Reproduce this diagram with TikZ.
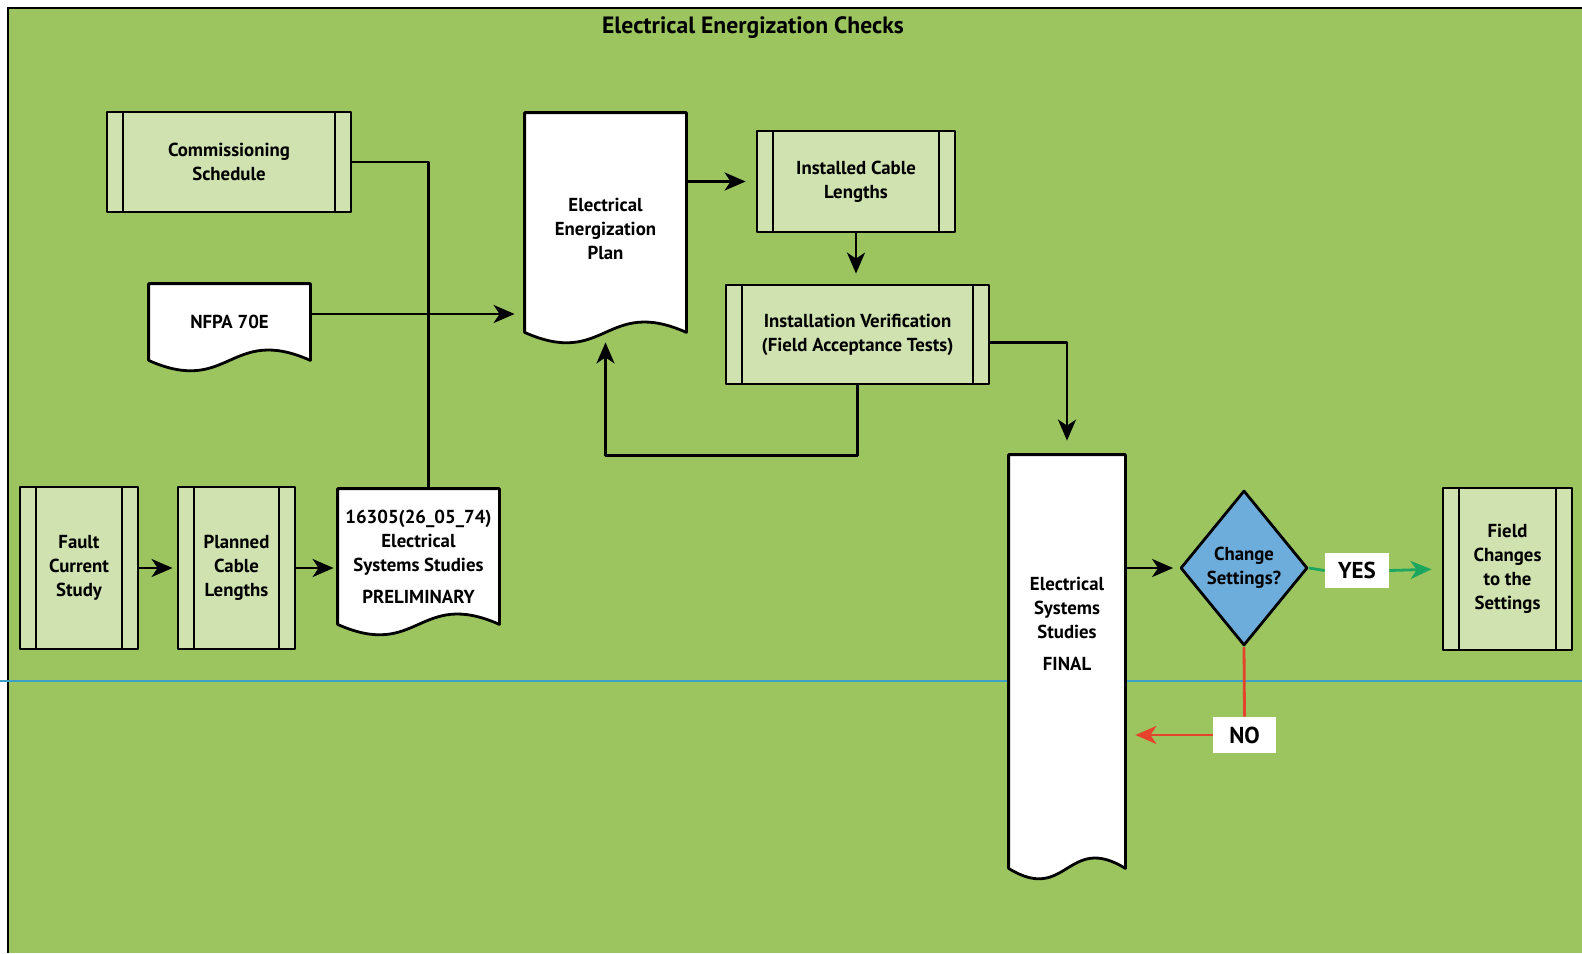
\documentclass[tikz,border=0pt]{standalone}
\usepackage{fontspec}
\setmainfont{PT Sans}
\usetikzlibrary{shapes.geometric,arrows.meta,calc}

\definecolor{bggreen}{HTML}{9CC55F}
\definecolor{boxgreen}{HTML}{CFE2AF}
\definecolor{decblue}{HTML}{6DADDB}
\definecolor{rowline}{HTML}{3DA0C6}
\definecolor{yesgreen}{HTML}{1DA660}
\definecolor{nored}{HTML}{E5432B}

\pgfdeclarelayer{bg}
\pgfdeclarelayer{docs}
\pgfsetlayers{bg,docs,main}

% document outline with a wavy bottom
% #1 = extra length below the node, #2 = extra length above it, #3 = node
\newcommand{\docshape}[3][0pt]{%
  \begin{pgfonlayer}{docs}
  \draw[line width=1.4pt, fill=white, line join=round]
    ([yshift=-#1]#3.south east) -- ([yshift=#2]#3.north east) -- ([yshift=#2]#3.north west) -- ([yshift=-#1]#3.south west)
    .. controls ($(#3.south)+(0pt,-18pt-#1)$) and ($(#3.south)+(0pt,18pt-#1)$) .. ([yshift=-#1]#3.south east) -- cycle;
  \end{pgfonlayer}}

\begin{document}
\begin{tikzpicture}[x=0.5pt,y=-0.5pt,line join=round,
  txt/.style={font=\fontsize{9.4}{12}\selectfont\bfseries, align=center, inner sep=0pt},
  process/.style={txt, draw, line width=1.4pt, fill=boxgreen,
    path picture={\draw[line width=1.4pt]
      ([xshift=8pt]path picture bounding box.north west) -- ([xshift=8pt]path picture bounding box.south west)
      ([xshift=-8pt]path picture bounding box.north east) -- ([xshift=-8pt]path picture bounding box.south east);}},
  docnode/.style={txt, rectangle, minimum width=80.5pt},
  decision/.style={txt, diamond, draw, line width=1.4pt, fill=decblue, minimum width=63.5pt, minimum height=77.5pt},
  answer/.style={font=\fontsize{11.5}{12}\selectfont\bfseries, fill=white, inner sep=0pt},
  link/.style={line width=1.4pt},
  flow/.style={line width=1.4pt, -{Stealth[length=10.5pt,width=9pt,inset=3pt]}}]

\useasboundingbox (0,0) rectangle (1582,953);

% frame
\begin{pgfonlayer}{bg}
\fill[bggreen] (8,8) rectangle (1582,953);
\draw[line width=1.2pt] (8,953) -- (8,8) -- (1582,8);
\draw[rowline, line width=1.4pt] (0,681) -- (1582,681);
\end{pgfonlayer}

\node[font=\fontsize{11.8}{14}\selectfont\bfseries] (head) at (753,28) {Electrical Energization Checks};

% processes
\node[process, minimum width=122pt, minimum height=50pt] (comm) at (229,162) {Commissioning\\Schedule};
\node[process, minimum width=99pt, minimum height=50.5pt] (inst) at (856,181.5) {Installed Cable\\Lengths};
\node[process, minimum width=131.5pt, minimum height=49.5pt] (verif) at (857.5,334.5) {Installation Verification\\(Field Acceptance Tests)};
\node[process, minimum width=59pt, minimum height=81pt] (fault) at (79,568) {Fault\\Current\\Study};
\node[process, minimum width=58.5pt, minimum height=81pt] (planned) at (236.5,568) {Planned\\Cable\\Lengths};
\node[process, minimum width=64.5pt, minimum height=81pt] (field) at (1507.5,569) {Field\\Changes\\to the\\Settings};

% documents
\node[docnode, minimum height=38pt] (nfpa) at (229.5,322) {NFPA 70E};
\node[docnode, minimum height=103pt] (plan) at (605.5,229) {Electrical\\Energization\\Plan};
\node[docnode, minimum height=67.5pt] (prelim) at (418.5,556.5) {16305(26\_05\_74)\\Electrical\\Systems Studies\\[4pt]PRELIMINARY};
\node[docnode, minimum width=58pt, minimum height=169pt] (final) at (1067,624) {Electrical\\Systems\\Studies\\[4pt]FINAL};
\docshape{0pt}{nfpa}
\docshape{6.5pt}{plan}
\docshape{0pt}{prelim}
\docshape[37.5pt]{0pt}{final}

% decision
\node[decision] (dia) at (1244,568) {Change\\Settings?};
\node[answer, minimum width=32pt, minimum height=17.5pt] (yes) at (1357,570.5) {YES};
\node[answer, minimum width=31.5pt, minimum height=18pt] (no) at (1244.5,735) {NO};

% connectors
\draw[link] (comm.east) -| ([xshift=5pt]prelim.north);
\draw[flow, shorten >=5pt] ($(nfpa.east)+(0,-8)$) -- ($(nfpa.east -| plan.west)+(0,-8)$);
\draw[flow, shorten >=5pt] (plan.east |- inst.west) -- (inst.west);
\draw[flow, shorten >=5pt] (inst.south) -- (inst.south |- verif.north);
\draw[flow, shorten >=5pt] (verif.south) -- ++(0,70) -| (plan.south);
\draw[flow, shorten >=7pt] ($(verif.east)+(0,8)$) -| (final.north);
\draw[flow, shorten >=2pt] (fault.east) -- (planned.west);
\draw[flow, shorten >=2pt] (planned.east) -- (planned.east -| prelim.west);
\draw[flow, shorten >=3pt] (dia.west -| final.east) -- (dia.west);
\draw[link, yesgreen] (dia.east) -- (yes.west);
\draw[flow, yesgreen, shorten >=5pt] (yes.east) -- (field.west);
\draw[link, nored] (dia.south) -- (no.north);
\draw[flow, nored, shorten >=5pt] (no.west) -- (no.west -| final.east);

\end{tikzpicture}
\end{document}
